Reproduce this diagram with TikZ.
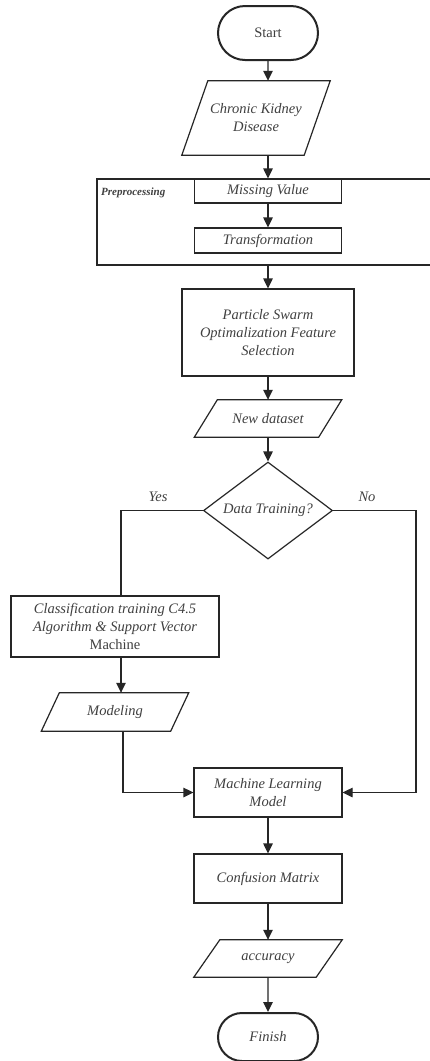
\documentclass[tikz,border=0pt]{standalone}
\usepackage{fontspec}
\setmainfont{Liberation Serif}
\usetikzlibrary{shapes.geometric,shapes.misc,arrows.meta}
\newcommand\parashape[2]{\draw[ln] ([xshift=#2]#1.north west) -- (#1.north east) -- ([xshift=-#2]#1.south east) -- (#1.south west) -- cycle;}
\begin{document}
\begin{tikzpicture}[x=1pt,y=-1pt,
  every node/.style={text=black!75, font=\fontsize{14.5}{18}\selectfont\itshape, align=center, inner sep=0pt},
  ln/.style={draw=black!85, line width=1.2pt},
  arr/.style={ln, -{Triangle[length=10pt,width=9.5pt]}},
  box/.style={rectangle, draw=black!85, line width=1.2pt},
  term/.style={rounded rectangle, draw=black!85, line width=2pt},
  dia/.style={diamond, draw=black!85, line width=1.2pt}
]
\useasboundingbox (0,0) rectangle (430,1061);
\fill[white] (0,0) rectangle (430,1061);

% nodes
\node[term, minimum width=100, minimum height=54] (start) at (268,33) {\upshape Start};
\node[minimum width=148, minimum height=74] (ckd) at (256,118) {Chronic Kidney\\Disease};
\parashape{ckd}{26}
\node[box, minimum width=147, minimum height=24] (mv) at (268,191) {Missing Value};
\node[box, minimum width=147, minimum height=25] (tr) at (268,240.5) {Transformation};
\node[font=\fontsize{11}{13}\selectfont\bfseries\itshape, anchor=west] (pp) at (101,193) {Preprocessing};
\draw[ln] (432,179) -| (97,265) -- (432,265);
\coordinate (pb) at (268,265);
\node[box, minimum width=172, minimum height=87] (pso) at (268,332.5) {Particle Swarm\\Optimalization Feature\\Selection};
\node[minimum width=147, minimum height=37] (nd) at (268,418.5) {New dataset};
\parashape{nd}{23}
\node[dia, minimum width=129, minimum height=97] (dec) at (268,510.5) {\makebox[0pt]{Data Training?}};
\node (yes) at (158,497) {Yes};
\node (no) at (367,497) {No};
\coordinate (nr) at (416,510.5);
\node[box, minimum width=208, minimum height=61] (cls) at (115,626.5) {Classification training C4.5\\Algorithm \& Support Vector\\{\upshape Machine}};
\node[minimum width=147, minimum height=38] (mod) at (115,712) {Modeling};
\parashape{mod}{18}
\node[box, minimum width=148, minimum height=49] (ml) at (268,792.5) {Machine Learning\\Model};
\node[box, minimum width=148, minimum height=49] (cm) at (268,878.5) {Confusion Matrix};
\node[minimum width=148, minimum height=37] (acc) at (268,958.5) {accuracy};
\parashape{acc}{26}
\node[term, minimum width=100, minimum height=48] (fin) at (268,1037) {Finish};

% connectors
\draw[arr] (start) -- (start |- ckd.north);
\draw[arr] (start |- ckd.south) -- (mv);
\draw[arr] (mv) -- (tr);
\draw[arr] (pb) -- (pso);
\draw[arr] (pso) -- (nd);
\draw[arr] (nd) -- (dec);
\draw[ln] (dec.west) -| ([xshift=6]cls.north);
\draw[arr] ([xshift=6]cls.south) -- ([xshift=6]mod.north);
\draw[arr] ([xshift=8]mod.south) |- (ml.west);
\draw[arr] (dec.east) -- (nr) |- (ml.east);
\draw[arr] (ml) -- (cm);
\draw[arr] (cm) -- (acc);
\draw[arr] (acc) -- (fin);
\end{tikzpicture}
\end{document}
